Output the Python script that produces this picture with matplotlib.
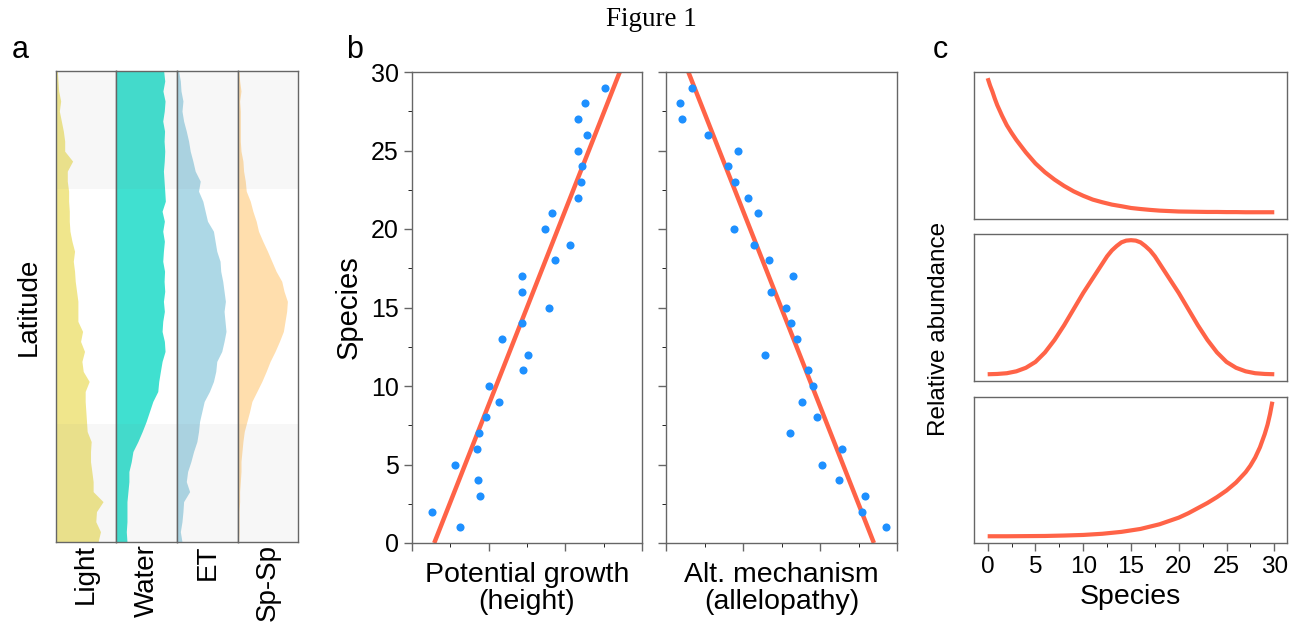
import numpy as np
import matplotlib
matplotlib.use("Agg")
import matplotlib.pyplot as plt
from matplotlib.ticker import MultipleLocator

plt.rcParams["font.family"] = ["Liberation Sans", "DejaVu Sans"]

# ---- panel a: latitude profiles (% of column width), top -> bottom
LATITUDE = np.linspace(90, -90, 48)
LIGHT = [2.7, 3.8, 4.9, 8.2, 6.0, 9.3, 12.6, 14.8, 14.8, 27.9, 19.1, 19.1,
         21.3, 21.3, 22.4, 22.4, 23.5, 26.8, 31.1, 29.0, 31.1, 32.2, 34.4, 36.6,
         36.6, 36.6, 44.3, 41.0, 47.5, 43.2, 45.4, 55.2, 48.6, 48.6, 49.7, 50.8,
         51.9, 58.5, 57.4, 57.4, 59.6, 61.7, 61.7, 78.1, 67.2, 66.1, 73.8, 69.9]
WATER = [78.0, 79.8, 76.8, 80.3, 79.0, 76.5, 79.5, 78.7, 79.8, 79.0, 77.6, 78.7,
         79.8, 80.8, 75.4, 79.2, 76.5, 79.2, 77.6, 76.5, 79.5, 78.7, 79.8, 77.6,
         79.2, 76.5, 75.4, 79.2, 80.3, 75.4, 72.6, 69.9, 68.3, 60.1, 54.6, 49.1,
         42.6, 35.5, 27.3, 24.6, 20.7, 20.7, 19.1, 17.5, 17.5, 17.5, 16.4, 17.5]
ET = [2.7, 5.5, 6.6, 9.8, 8.2, 10.9, 15.3, 19.1, 21.8, 26.2, 30.0, 38.3,
      35.5, 42.6, 46.4, 50.3, 60.1, 62.8, 65.6, 71.0, 72.1, 75.4, 77.6, 79.8,
      77.6, 79.2, 80.8, 77.6, 73.8, 65.6, 63.9, 60.1, 53.5, 44.8, 41.0, 37.2,
      35.5, 32.8, 27.3, 22.9, 17.5, 15.3, 20.8, 10.9, 9.8, 8.2, 5.5, 8.2]
SPSP = [2.2, 3.3, 5.5, 3.3, 4.4, 4.4, 4.4, 4.4, 5.5, 8.7, 9.8, 12.6,
        14.2, 20.8, 25.1, 30.6, 34.4, 41.5, 49.2, 56.3, 63.4, 72.7, 76.5, 82.0,
        80.8, 78.1, 75.4, 68.9, 61.7, 53.5, 47.0, 39.9, 31.7, 23.5, 19.7, 15.3,
        10.9, 8.7, 7.1, 5.5, 5.5, 4.4, 3.3, 3.3, 2.2, 2.2, 2.2, 1.6]
DRIVERS = ["Light", "Water", "ET", "Sp-Sp"]
DRIVER_COLORS = ["#F0E68C", "#40E0D0", "#ADD8E6", "#FFDEAD"]

# ---- panel b: species rank vs trait
SPECIES = list(range(1, 30))
GROWTH = [0.63, 0.26, 0.89, 0.86, 0.56, 0.85, 0.88, 0.96, 1.13, 1.01,
          1.45, 1.51, 1.17, 1.44, 1.79, 1.44, 1.44, 1.86, 2.06, 1.74,
          1.82, 2.17, 2.21, 2.22, 2.16, 2.28, 2.16, 2.25, 2.52]
ALLELO = [2.86, 2.54, 2.59, 2.25, 2.02, 2.29, 1.61, 1.96, 1.77, 1.91,
          1.85, 1.29, 1.70, 1.62, 1.56, 1.37, 1.65, 1.34, 1.14, 0.88,
          1.19, 1.06, 0.90, 0.81, 0.93, 0.55, 0.21, 0.18, 0.34]
FIT_Y = [0, 30]
GROWTH_FIT_X = [0.29, 2.71]
ALLELO_FIT_X = [2.70, 0.29]

# ---- panel c: relative abundance curves
DECAY_X = [0, 0.25, 0.5, 0.75, 1, 1.5, 2, 2.5, 3, 4, 5, 6, 7, 8, 9, 10, 11,
           12, 13, 14, 15, 16, 17, 18, 19, 20, 21, 22, 23, 24, 25, 26, 27,
           28, 29, 30]
DECAY_Y = [0.96, 0.91, 0.868, 0.82, 0.777, 0.705, 0.64, 0.588, 0.54, 0.455,
           0.38, 0.32, 0.27, 0.227, 0.19, 0.16, 0.134, 0.116, 0.10, 0.089,
           0.077, 0.07, 0.064, 0.059, 0.056, 0.053, 0.052, 0.051, 0.05, 0.05,
           0.049, 0.049, 0.048, 0.048, 0.048, 0.048]
HUMP_X = [0, 1, 2, 3, 4, 5, 6, 7, 8, 9, 10, 10.5, 11, 11.5, 12, 12.5, 13,
          13.5, 14, 14.5, 15, 15.5, 16, 16.5, 17, 17.5, 18, 18.5, 19, 19.5,
          20, 21, 22, 23, 24, 25, 26, 27, 28, 29, 30]
HUMP_Y = [0.046, 0.048, 0.053, 0.066, 0.09, 0.13, 0.195, 0.28, 0.38, 0.49,
          0.60, 0.65, 0.70, 0.75, 0.80, 0.85, 0.89, 0.92, 0.945, 0.957, 0.96,
          0.957, 0.945, 0.92, 0.89, 0.85, 0.80, 0.75, 0.70, 0.65, 0.60, 0.49,
          0.38, 0.28, 0.195, 0.13, 0.09, 0.066, 0.053, 0.048, 0.046]
GROWTH_X = [0, 2, 4, 6, 8, 10, 12, 14, 16, 18, 20, 21, 22, 23, 24, 25, 26,
            27, 27.5, 28, 28.5, 29, 29.3, 29.55, 29.8]
GROWTH_Y = [0.048, 0.048, 0.049, 0.05, 0.053, 0.057, 0.065, 0.078, 0.098,
            0.13, 0.175, 0.205, 0.24, 0.275, 0.315, 0.36, 0.415, 0.485, 0.53,
            0.585, 0.655, 0.745, 0.81, 0.88, 0.966]

SPINE = "#666666"
TOMATO = "#FF6347"
W, H = 1303, 637


def frac(x0, y0, x1, y1):
    return [x0 / W, 1 - y1 / H, (x1 - x0) / W, (y1 - y0) / H]


def style_spines(ax):
    for s in ax.spines.values():
        s.set_color(SPINE)
        s.set_linewidth(1.0)
    ax.tick_params(colors=SPINE, labelcolor="black", width=1.0)


fig = plt.figure(figsize=(13.03, 6.37), dpi=100)
fig.text(0.5, 1 - 20 / H, "Figure 1", ha="center", va="center", fontsize=19.5,
         family=["Liberation Serif", "DejaVu Serif"])

# panel a
col_w = (298.3 - 55.7) / 4
profiles = [LIGHT, WATER, ET, SPSP]
for i, (name, vals, col) in enumerate(zip(DRIVERS, profiles, DRIVER_COLORS)):
    x0 = 55.7 + i * col_w
    ax = fig.add_axes(frac(x0, 71, x0 + col_w, 541.7))
    ax.fill_betweenx(LATITUDE, 0, vals, color=col, lw=0, zorder=1)
    ax.axhspan(45, 90, color="grey", alpha=0.06, lw=0, zorder=2)
    ax.axhspan(-90, -45, color="grey", alpha=0.06, lw=0, zorder=2)
    ax.set_xlim(0, 100)
    ax.set_ylim(-90, 90)
    ax.set_xticks([])
    ax.set_yticks([])
    style_spines(ax)
    ax.set_xlabel(name, rotation=90, fontsize=20, va="top", labelpad=2)
    if i == 0:
        ax.set_ylabel("Latitude", fontsize=20, labelpad=10)
fig.text(20 / W, 1 - 50 / H, "a", fontsize=22, ha="center", va="center")

# panel b
axb1 = fig.add_axes(frac(412, 72, 642, 543))
axb2 = fig.add_axes(frac(666, 72, 897, 543))
for ax, xs, fx, lab in [(axb1, GROWTH, GROWTH_FIT_X, "Potential growth\n(height)"),
                        (axb2, ALLELO, ALLELO_FIT_X, "Alt. mechanism\n(allelopathy)")]:
    ax.plot(fx, FIT_Y, color=TOMATO, lw=3.2, zorder=2, solid_capstyle="butt")
    ax.scatter(xs, SPECIES, s=34, color="#1E90FF", lw=0, zorder=3)
    ax.set_xlim(0, 3)
    ax.set_ylim(0, 30)
    ax.xaxis.set_major_locator(MultipleLocator(1))
    ax.xaxis.set_minor_locator(MultipleLocator(0.5))
    ax.yaxis.set_major_locator(MultipleLocator(5))
    ax.yaxis.set_minor_locator(MultipleLocator(2.5))
    ax.set_xticklabels([])
    ax.tick_params(which="major", length=6)
    ax.tick_params(which="minor", length=3)
    style_spines(ax)
    ax.set_xlabel(lab, fontsize=20.5, labelpad=4, linespacing=1.05)
axb1.tick_params(axis="y", labelsize=18)
axb2.set_yticklabels([])
axb1.set_ylabel("Species", fontsize=21, labelpad=6)
fig.text(355 / W, 1 - 50 / H, "b", fontsize=22, ha="center", va="center")

# panel c
boxes = [(72.3, 219.3), (234.3, 381), (396.7, 543.3)]
curves = [(DECAY_X, DECAY_Y), (HUMP_X, HUMP_Y), (GROWTH_X, GROWTH_Y)]
axes_c = []
for (y0, y1), (cx, cy) in zip(boxes, curves):
    ax = fig.add_axes(frac(974.3, y0, 1286.7, y1))
    ax.plot(cx, cy, color=TOMATO, lw=3.0, solid_capstyle="butt")
    ax.set_xlim(-1.4, 31.3)
    ax.set_ylim(0, 1)
    ax.set_yticks([])
    ax.set_xticks([])
    style_spines(ax)
    axes_c.append(ax)
axc = axes_c[-1]
axc.xaxis.set_major_locator(MultipleLocator(5))
axc.xaxis.set_minor_locator(MultipleLocator(2.5))
axc.tick_params(which="major", length=6, labelsize=17.5)
axc.tick_params(which="minor", length=3)
axc.set_xlabel("Species", fontsize=20.5, labelpad=4)
fig.text(939 / W, 1 - 329 / H, "Relative abundance", rotation=90,
         fontsize=17.5, ha="center", va="center")
fig.text(940 / W, 1 - 50 / H, "c", fontsize=22, ha="center", va="center")

fig.savefig("out.png", dpi=100)
